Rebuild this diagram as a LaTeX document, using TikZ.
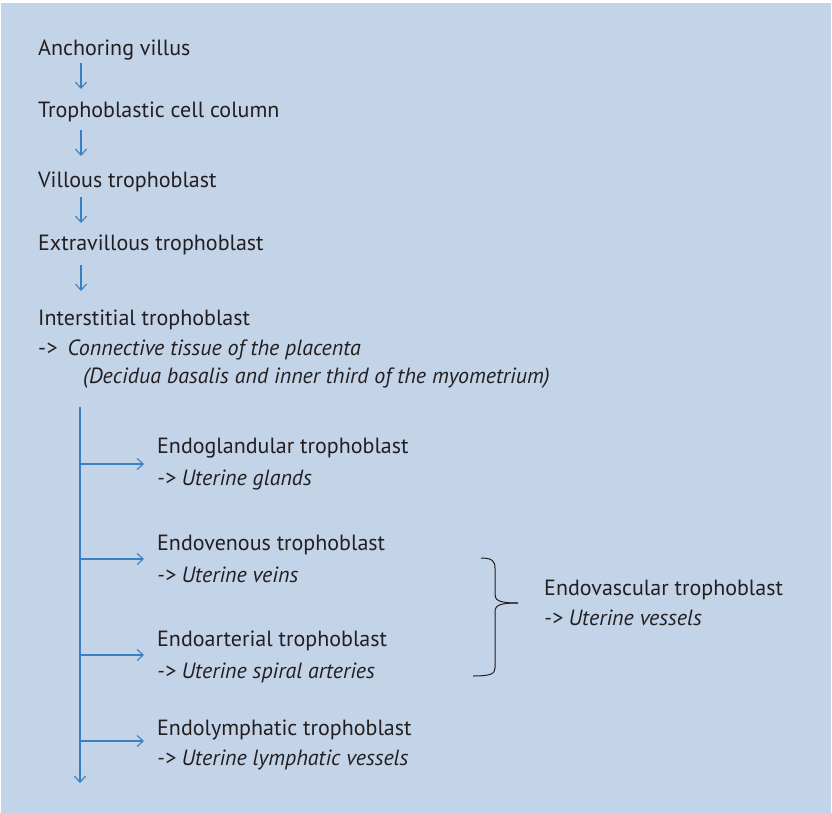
\documentclass[tikz,border=0pt]{standalone}
\usepackage{fontspec}
\setmainfont{PT Sans}
\usetikzlibrary{arrows.meta}
\definecolor{panel}{HTML}{C3D3E8}
\definecolor{ink}{HTML}{231F20}
\definecolor{flow}{HTML}{3A7FC0}
\begin{document}
\begin{tikzpicture}[x=1pt,y=-1pt,
  lbl/.style={anchor=base west,inner sep=0pt,text=ink,font=\fontsize{22}{24}\selectfont},
  sub/.style={lbl,font=\fontsize{22}{24}\selectfont\itshape},
  flowarrow/.style={draw=flow,line width=1.1pt,-{Straight Barb[length=6pt,width=11pt,line width=1.1pt]}},
  bracepath/.style={draw=ink,line width=1pt}]
  \useasboundingbox (0,0) rectangle (832,813);
  \fill[white] (0,0) rectangle (832,813);
  \fill[panel] (1,3) rectangle (831,813);

  % main chain
  \node[lbl] (anch) at (38,56) {Anchoring villus};
  \node[lbl] (col) at (38,118) {Trophoblastic cell column};
  \node[lbl] (vill) at (38,188) {Villous trophoblast};
  \node[lbl] (extra) at (38,250) {Extravillous trophoblast};
  \node[lbl] (inter) at (38,325) {Interstitial trophoblast};
  \node[lbl] (conn) at (38,355) {-\kern0.5pt>\hspace{10pt}\itshape Connective tissue of the placenta};
  \node[sub] (dec) at (83,383) {(Decidua basalis and inner third of the myometrium)};

  \coordinate (a1s) at (81,63);  \coordinate (a1e) at (81,89);
  \coordinate (a2s) at (81,130); \coordinate (a2e) at (81,156);
  \coordinate (a3s) at (81,197); \coordinate (a3e) at (81,223);
  \coordinate (a4s) at (81,265); \coordinate (a4e) at (81,291);
  \draw[flowarrow] (a1s) -- (a1e);
  \draw[flowarrow] (a2s) -- (a2e);
  \draw[flowarrow] (a3s) -- (a3e);
  \draw[flowarrow] (a4s) -- (a4e);

  % branching trunk
  \coordinate (trunk) at (80,407);
  \coordinate (trunkend) at (80,783);
  \coordinate (b1) at (80,464); \coordinate (t1) at (144,464);
  \coordinate (b2) at (80,559); \coordinate (t2) at (144,559);
  \coordinate (b3) at (80,655); \coordinate (t3) at (144,655);
  \coordinate (b4) at (80,741); \coordinate (t4) at (144,741);
  \draw[flowarrow] (trunk) -- (trunkend);
  \draw[flowarrow] (b1) -- (t1);
  \draw[flowarrow] (b2) -- (t2);
  \draw[flowarrow] (b3) -- (t3);
  \draw[flowarrow] (b4) -- (t4);

  \node[lbl] (glan) at (157,453) {Endoglandular trophoblast};
  \node[sub] (glanS) at (157,485) {-\kern0.5pt> Uterine glands};
  \node[lbl] (ven) at (157,550) {Endovenous trophoblast};
  \node[sub] (venS) at (157,582) {-\kern0.5pt> Uterine veins};
  \node[lbl] (art) at (157,646) {Endoarterial trophoblast};
  \node[sub] (artS) at (157,678) {-\kern0.5pt> Uterine spiral arteries};
  \node[lbl] (lym) at (157,735) {Endolymphatic trophoblast};
  \node[sub] (lymS) at (157,765) {-\kern0.5pt> Uterine lymphatic vessels};

  % grouping brace
  \coordinate (brtop) at (481,558);
  \coordinate (brtip) at (518,603);
  \coordinate (brbot) at (473,676);
  \draw[bracepath] (brtop) .. controls (492,558) and (495,561) .. (495,568)
     -- (495,594) .. controls (495,600) and (498,603) .. (brtip);
  \draw[bracepath] (brtip) .. controls (500,603) and (495,605) .. (495,612)
     -- (495,668) .. controls (495,674) and (490,676) .. (brbot);

  \node[lbl] (vasc) at (544,595) {Endovascular trophoblast};
  \node[sub] (vascS) at (544,625) {-\kern0.5pt> Uterine vessels};
\end{tikzpicture}
\end{document}
